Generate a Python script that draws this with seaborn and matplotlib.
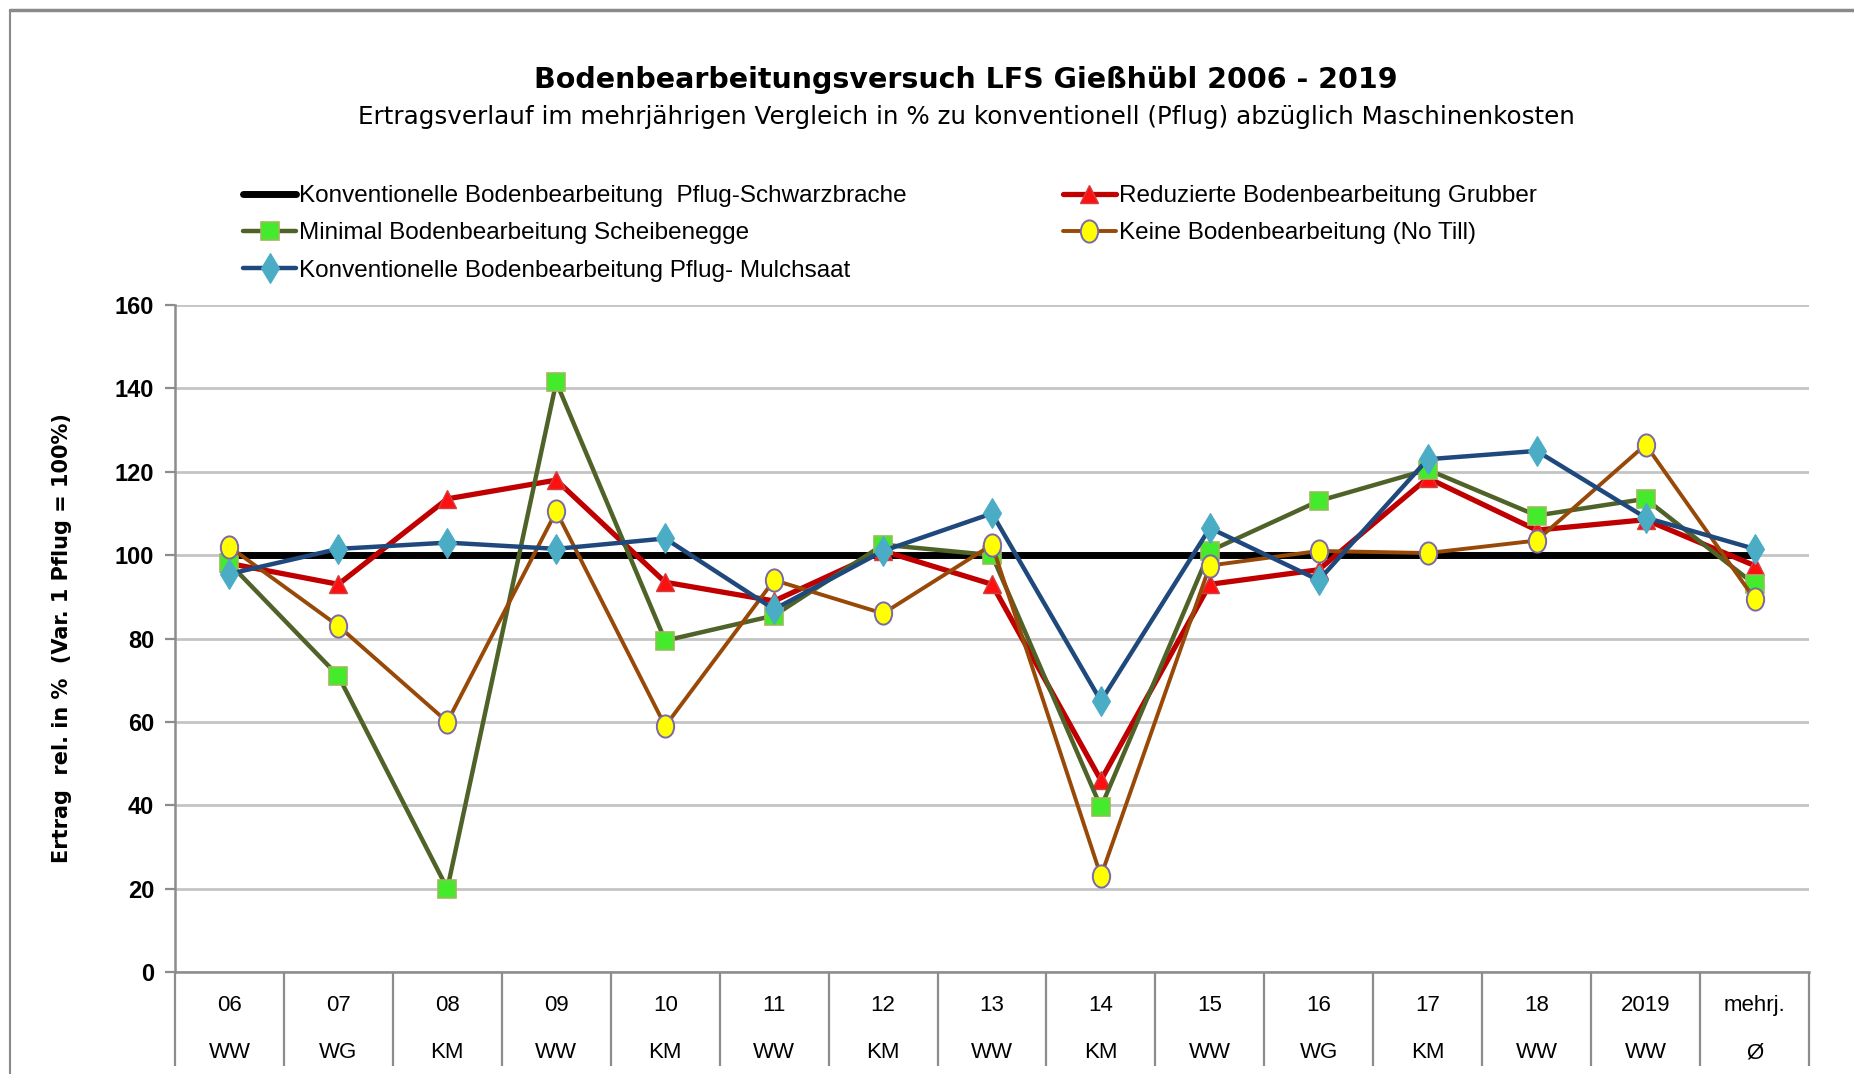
import numpy as np
import pandas as pd
import matplotlib
matplotlib.use("Agg")
import matplotlib.pyplot as plt
from matplotlib.path import Path
from matplotlib.transforms import Affine2D
from matplotlib.lines import Line2D
import seaborn as sns

# ---- data ----
years = ["06", "07", "08", "09", "10", "11", "12", "13", "14", "15", "16", "17", "18", "2019", "mehrj."]
crops = ["WW", "WG", "KM", "WW", "KM", "WW", "KM", "WW", "KM", "WW", "WG", "KM", "WW", "WW", "Ø"]

schwarzbrache = [100, 100, 100, 100, 100, 100, 100, 100, 100, 100, 100, 100, 100, 100, 100]
grubber = [98, 93, 113.5, 118, 93.5, 89, 101, 93, 46, 93, 96.5, 118.5, 106, 108.5, 97.5]
scheibenegge = [98, 71, 20, 141.5, 79.5, 85.5, 102.5, 100, 39.5, 101, 113, 120.5, 109.5, 113.5, 93]
notill = [102, 83, 60, 110.5, 59, 94, 86, 102.5, 23, 97.5, 101, 100.5, 103.5, 126.5, 89.5]
mulchsaat = [95.5, 101.5, 103, 101.5, 104, 87, 101, 110, 65, 106.5, 94, 123, 125, 109, 101.5]

labels = [
    "Konventionelle Bodenbearbeitung  Pflug-Schwarzbrache",
    "Reduzierte Bodenbearbeitung Grubber",
    "Minimal Bodenbearbeitung Scheibenegge",
    "Keine Bodenbearbeitung (No Till)",
    "Konventionelle Bodenbearbeitung Pflug- Mulchsaat",
]

sns.set_theme(style="white")
plt.rcParams["font.family"] = ["Liberation Sans", "DejaVu Sans"]
plt.rcParams["text.color"] = "black"
plt.rcParams["axes.labelcolor"] = "black"
plt.rcParams["xtick.color"] = "black"
plt.rcParams["ytick.color"] = "black"

fig = plt.figure(figsize=(18.54, 10.74), dpi=100)
ax = fig.add_axes([175 / 1854, 1 - 972 / 1074, (1809 - 175) / 1854, (972 - 305) / 1074])

x = np.arange(len(years))

ellipse = Path.unit_circle().transformed(Affine2D().scale(0.78, 1.0))

series = [
    (schwarzbrache, labels[0], dict(color="#000000", lw=5.0, marker=None)),
    (grubber, labels[1], dict(color="#c00000", lw=3.8, marker="^", ms=13,
                              markerfacecolor="#ff1010", markeredgecolor="#d04040", markeredgewidth=1.0)),
    (scheibenegge, labels[2], dict(color="#4f6228", lw=3.2, marker="s", ms=13.5,
                                   markerfacecolor="#44ea2c", markeredgecolor="#9bbb59", markeredgewidth=1.2)),
    (notill, labels[3], dict(color="#984807", lw=2.8, marker=ellipse, ms=16,
                             markerfacecolor="#ffff00", markeredgecolor="#7a68a8", markeredgewidth=1.4)),
    (mulchsaat, labels[4], dict(color="#1f497d", lw=3.2, marker="d", ms=15,
                                markerfacecolor="#4bacc6", markeredgecolor="#4bacc6", markeredgewidth=0.8)),
]

handles = {}
for vals, lab, kw in series:
    df = pd.DataFrame({"x": x, "y": vals})
    kw = dict(kw)
    marker = kw.pop("marker")
    if marker is None:
        sns.lineplot(data=df, x="x", y="y", ax=ax, label=lab, **kw)
    else:
        sns.lineplot(data=df, x="x", y="y", ax=ax, label=lab, marker=marker, **kw)
    handles[lab] = ax.get_lines()[-1]

if ax.get_legend() is not None:
    ax.get_legend().remove()

ax.set_xlim(-0.5, len(years) - 0.5)
ax.set_ylim(0, 160)
ax.set_yticks(np.arange(0, 161, 20))
ax.grid(axis="y", color="#c4c4c4", lw=2.0)
ax.grid(axis="x", visible=False)
ax.set_axisbelow(True)

ax.set_xticks(x, labels=[f"{a}\n{b}" for a, b in zip(years, crops)])
ax.set_xticks(np.arange(-0.5, len(years)), minor=True)
ax.tick_params(axis="x", which="major", bottom=True, length=0, pad=16.5, labelsize=16, colors="#000000")
for t in ax.get_xticklabels():
    t.set_linespacing(2.65)
ax.tick_params(axis="x", which="minor", bottom=True, length=68, width=1.6, color="#8c8c8c", direction="out")
ax.tick_params(axis="y", which="major", left=True, length=7, width=1.6, color="#8c8c8c", direction="out",
               labelsize=17, pad=8, labelcolor="black")
for t in ax.get_yticklabels():
    t.set_fontweight("bold")

for s in ["top", "right"]:
    ax.spines[s].set_visible(False)
for s in ["left", "bottom"]:
    ax.spines[s].set_color("#8c8c8c")
    ax.spines[s].set_linewidth(1.8)

ax.set_xlabel("")
ax.set_ylabel("Ertrag  rel. in %  (Var. 1 Pflug = 100%)", fontsize=15, fontweight="bold",
              family=["DejaVu Sans"], labelpad=31, color="black")

fig.text(0.5 * (452 + 1182) * 1.1824 / 1854, 1 - 80 / 1074,
         "Bodenbearbeitungsversuch LFS Gießhübl 2006 - 2019",
         ha="center", va="center", fontsize=20.5, fontweight="bold", family=["DejaVu Sans"], color="black")
fig.text(0.5 * (302 + 1332) * 1.1824 / 1854, 1 - 117 / 1074,
         "Ertragsverlauf im mehrjährigen Vergleich in % zu konventionell (Pflug) abzüglich Maschinenkosten",
         ha="center", va="center", fontsize=17.7, family=["DejaVu Sans"], color="black")

order = [labels[0], labels[2], labels[4], labels[1], labels[3]]
fig.legend([handles[l] for l in order], order, loc="upper left",
           bbox_to_anchor=(226 / 1854, 1 - 168 / 1074), ncol=2, frameon=False,
           fontsize=17.5, handlelength=2.2, handletextpad=0.12, columnspacing=6.4,
           labelspacing=0.63, borderpad=0.2, labelcolor="black")

# outer frame lines
fig.add_artist(Line2D([10 / 1854, 1.0], [1 - 10 / 1074, 1 - 10 / 1074], color="#8a8a8a", lw=2.5,
                      transform=fig.transFigure))
fig.add_artist(Line2D([10 / 1854, 10 / 1854], [0, 1 - 10 / 1074], color="#8a8a8a", lw=1.5,
                      transform=fig.transFigure))

fig.savefig("out.png", dpi=100)
